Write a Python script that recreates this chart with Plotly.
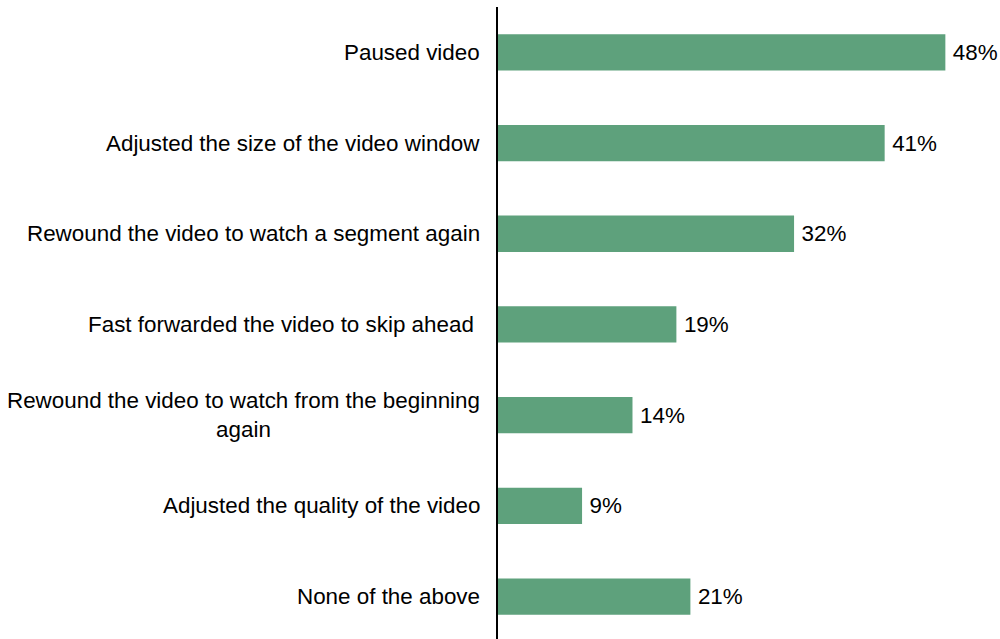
import plotly.graph_objects as go

categories = [
    "Paused video",
    "Adjusted the size of the video window",
    "Rewound the video to watch a segment again",
    "Fast forwarded the video to skip ahead\u00a0",
    "Rewound the video to watch from the beginning<br>again",
    "Adjusted the quality of the video",
    "None of the above",
]
values = [47.9, 41.4, 31.7, 19.1, 14.4, 9.0, 20.6]
value_labels = ["48%", "41%", "32%", "19%", "14%", "9%", "21%"]

bar_color = "#5ea17c"
font_family = "Liberation Sans, Arial, sans-serif"
font_size = 22.4

fig = go.Figure()
fig.add_trace(go.Bar(
    x=values,
    y=categories,
    orientation="h",
    marker=dict(color=bar_color, line=dict(width=0)),
    width=0.4,
    text=["\u2009" + t for t in value_labels],
    textposition="outside",
    textfont=dict(family=font_family, size=font_size, color="#000000"),
    constraintext="none",
    cliponaxis=False,
    hoverinfo="skip",
))

for c in categories:
    fig.add_annotation(
        x=0, y=c, xref="x", yref="y",
        text=c, showarrow=False,
        xanchor="right", yanchor="middle", align="center",
        xshift=-16,
        font=dict(family=font_family, size=font_size, color="#000000"),
    )

fig.update_layout(
    width=1000, height=639,
    margin=dict(l=498, r=0, t=7, b=0),
    paper_bgcolor="white", plot_bgcolor="white",
    showlegend=False,
    xaxis=dict(range=[0, 53.75], visible=False, showgrid=False, zeroline=False),
    yaxis=dict(
        categoryorder="array", categoryarray=categories,
        range=[6.468, -0.5],
        showticklabels=False, ticks="",
        showline=True, linecolor="#000000", linewidth=1.5,
        showgrid=False, zeroline=False,
    ),
)

fig.write_html("out.html")
